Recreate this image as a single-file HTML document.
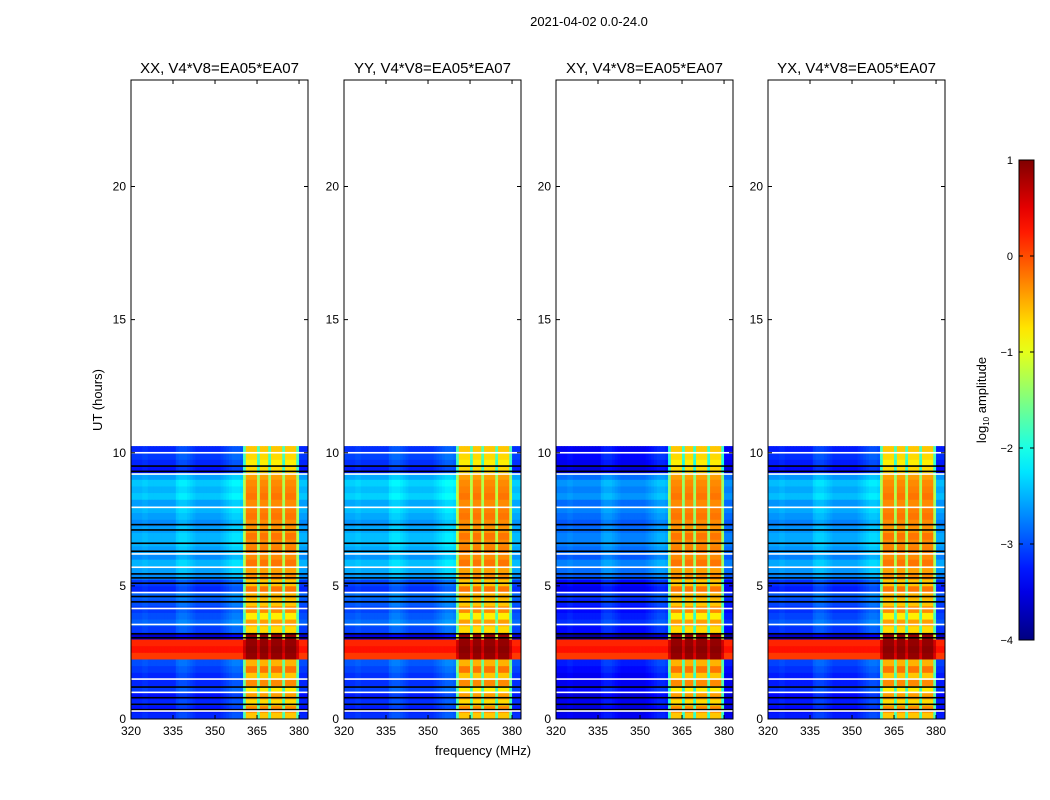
<!DOCTYPE html>
<html><head><meta charset="utf-8">
<style>
body{margin:0;background:#fff;width:1050px;height:800px;overflow:hidden;font-family:"Liberation Sans",sans-serif;}
#root{position:relative;width:1050px;height:800px;}
</style></head>
<body>
<div id="root">
<svg id="svg" width="1050" height="800" xmlns="http://www.w3.org/2000/svg" style="position:absolute;left:0;top:0"></svg>
</div>
<script>
// ---- data ----
const panelTitles = ["XX, V4*V8=EA05*EA07","YY, V4*V8=EA05*EA07","XY, V4*V8=EA05*EA07","YX, V4*V8=EA05*EA07"];
const xTicks = [320,335,350,365,380];
const yTicks = [0,5,10,15,20];
const cbTicks = [1,0,-1,-2,-3,-4];
const cbTickLabels = ["1","0","\u22121","\u22122","\u22123","\u22124"];
const rowHours = 0.25;
// off-band log amplitude per 0.25h row (XX)
const rowOff = [-3.2,-3.3,-3.2,-3.3,-3.1,-3.2,-3.2,-3.1,-3.0,
  0.1,0.3,0.2,
  -3.6,
  -3.1,-2.9,-3.0,-3.1,-3.0,-2.9,-3.2,-3.1,
  -2.7,-2.6,-2.5,-2.7,-2.6,-2.5,-2.5,-2.6,-2.7,-2.6,-2.5,-2.6,-2.4,-2.5,-2.4,-2.6,
  -3.3,-3.2,-3.1,-3.2];
// in-band log amplitude per row (XX)
const rowOn = [-0.6,-0.3,-0.7,-0.4,-0.8,-0.3,-0.6,-0.2,-0.5,
  0.9,0.95,0.9,
  0.9,
  -0.7,-0.4,-0.8,-0.3,-0.6,-0.5,-0.2,-0.6,
  -0.3,-0.4,-0.2,-0.3,-0.25,-0.3,-0.2,-0.35,-0.3,-0.2,-0.25,-0.3,-0.2,-0.25,-0.3,-0.4,
  -0.7,-0.8,-0.7,-0.6];
// per-panel off-band shift
const panelOffShift = [0, 0.05, -0.25, -0.05];
// channel (1 MHz bins from 320) off-band modulation
const chanOff = [0,0,0,0,0.05,0.05,0,0,0,0,
  0,0,0,0,0,0,0.15,0.2,0.2,0.2,
  0.15,0.1,0.05,0,0,0,0,0,0,0,
  0,0,0.05,0.1,0.15,0.2,0.25,0.25,0.25,0.2,
  0,0,0,0,0,0,0,0,0,0,
  0,0,0,0,0,0,0,0,0,0,
  0,0,0,0];
// in-band fraction per channel
const chanBand = [0,0,0,0,0,0,0,0,0,0,
  0,0,0,0,0,0,0,0,0,0,
  0,0,0,0,0,0,0,0,0,0,
  0,0,0,0,0,0,0,0,0,0,
  0.55,1,1,1,1,0.55,1,1,1,0.55,
  1,1,1,1,0.55,1,1,1,1,0.55,
  0,0,0,0];
const blackHours = [0.35,0.55,0.8,1.2,3.05,3.2,4.4,4.6,5.1,5.3,5.45,6.3,6.6,7.1,7.3,9.3,9.5];
const whiteHours = [0.3,1.0,1.5,3.55,4.15,4.75,5.7,6.2,7.95,9.2,10.0];

// ---- layout ----
const panelLefts = [131,344,556,768];
const PW = 177, PT = 80, PB = 719;
const NS = "http://www.w3.org/2000/svg";
const svg = document.getElementById('svg');
function mk(tag, attrs, parent){const e=document.createElementNS(NS,tag);for(const k in attrs)e.setAttribute(k,attrs[k]);(parent||svg).appendChild(e);return e;}
function jet(v){
  const r=Math.min(Math.max(Math.min(4*v-1.5,-4*v+4.5),0),1);
  const g=Math.min(Math.max(Math.min(4*v-0.5,-4*v+3.5),0),1);
  const b=Math.min(Math.max(Math.min(4*v+0.5,-4*v+2.5),0),1);
  return `rgb(${Math.round(r*255)},${Math.round(g*255)},${Math.round(b*255)})`;
}
function col(l){return jet(Math.min(Math.max((l+4)/5,0),1));}

let t=mk('text',{x:589,y:26,'font-size':13,'text-anchor':'middle'});t.textContent="2021-04-02 0.0-24.0";

t=mk('text',{x:483,y:755,'font-size':13,'text-anchor':'middle'});t.textContent="frequency (MHz)";

t=mk('text',{x:0,y:0,'font-size':13,'text-anchor':'middle',transform:'translate(102,400) rotate(-90)'});t.textContent="UT (hours)";


panelLefts.forEach((L,p)=>{
  const g=mk('g',{});
  
  
  const xs=f=>L+(f-320)*PW/63.2;
  const ys=h=>PB-h*(PB-PT)/24;
  const clipId='clip'+p;
  const cp=mk('clipPath',{id:clipId},g);mk('rect',{x:L,y:PT,width:PW,height:PB-PT},cp);
  const hm=mk('g',{'clip-path':`url(#${clipId})`},g);
  
  for(let r=0;r<rowOff.length;r++){
    const off=rowOff[r]+(rowOff[r]<-1?panelOffShift[p]:0);
    for(let c=0;c<chanBand.length;c++){
      const o=off+(rowOff[r]<-1?chanOff[c]:0);
      const v=o+chanBand[c]*(rowOn[r]-o);
      const x0=xs(320+c),x1=xs(321+c),y0=ys((r+1)*rowHours),y1=ys(r*rowHours);
      const cell=mk('rect',{x:x0,y:y0,width:x1-x0+0.4,height:y1-y0+0.4,fill:col(v)},hm);
      
      
    }
  }
  blackHours.forEach(h=>{const ln=mk('rect',{x:L,y:ys(h)-0.8,width:PW,height:1.6,fill:'#000'},hm);
    });
  whiteHours.forEach(h=>{const ln=mk('rect',{x:L,y:ys(h)-0.8,width:PW,height:1.6,fill:'#fff'},hm);
    });
  const fr=mk('rect',{x:L,y:PT,width:PW,height:PB-PT,fill:'none',stroke:'#000','stroke-width':1},g);
  
  xTicks.forEach(f=>{const x=xs(f);
    mk('line',{x1:x,y1:PB,x2:x,y2:PB-4,stroke:'#000'},g);mk('line',{x1:x,y1:PT,x2:x,y2:PT+4,stroke:'#000'},g);
    const tl=mk('text',{x:x,y:PB+16,'font-size':12,'text-anchor':'middle'},g);tl.textContent=f;
    });
  yTicks.forEach(h=>{const y=ys(h);
    mk('line',{x1:L,y1:y,x2:L+4,y2:y,stroke:'#000'},g);mk('line',{x1:L+PW,y1:y,x2:L+PW-4,y2:y,stroke:'#000'},g);
    const tl=mk('text',{x:L-5,y:y+4,'font-size':12,'text-anchor':'end'},g);tl.textContent=h;
    });
  const tt=mk('text',{x:L+PW/2,y:73,'font-size':15,'text-anchor':'middle'},g);tt.textContent=panelTitles[p];
  
});

const cb=mk('g',{});
const CBX=1019,CBW=15,CBT=160,CBB=640;
const grad=mk('linearGradient',{id:'jetg',x1:0,y1:1,x2:0,y2:0},cb);
for(let i=0;i<=20;i++){mk('stop',{offset:i/20,'stop-color':jet(i/20)},grad);}
mk('rect',{x:CBX,y:CBT,width:CBW,height:CBB-CBT,fill:'url(#jetg)',stroke:'#000','stroke-width':1},cb);
const cy=v=>CBB-(v+4)/5*(CBB-CBT);
cbTicks.forEach((v,i)=>{const y=cy(v);
  mk('line',{x1:CBX,y1:y,x2:CBX+4,y2:y,stroke:'#000'},cb);mk('line',{x1:CBX+CBW,y1:y,x2:CBX+CBW-4,y2:y,stroke:'#000'},cb);
  const tl=mk('text',{x:CBX-6,y:y+4,'font-size':11,'text-anchor':'end'},cb);tl.textContent=cbTickLabels[i];
  });
const cl=mk('text',{x:0,y:0,'font-size':13,'text-anchor':'middle',transform:'translate(986,400) rotate(-90)'},cb);
cl.innerHTML='log<tspan font-size="8" dy="3">10</tspan><tspan dy="-3"> amplitude</tspan>';

</script>
</body></html>
